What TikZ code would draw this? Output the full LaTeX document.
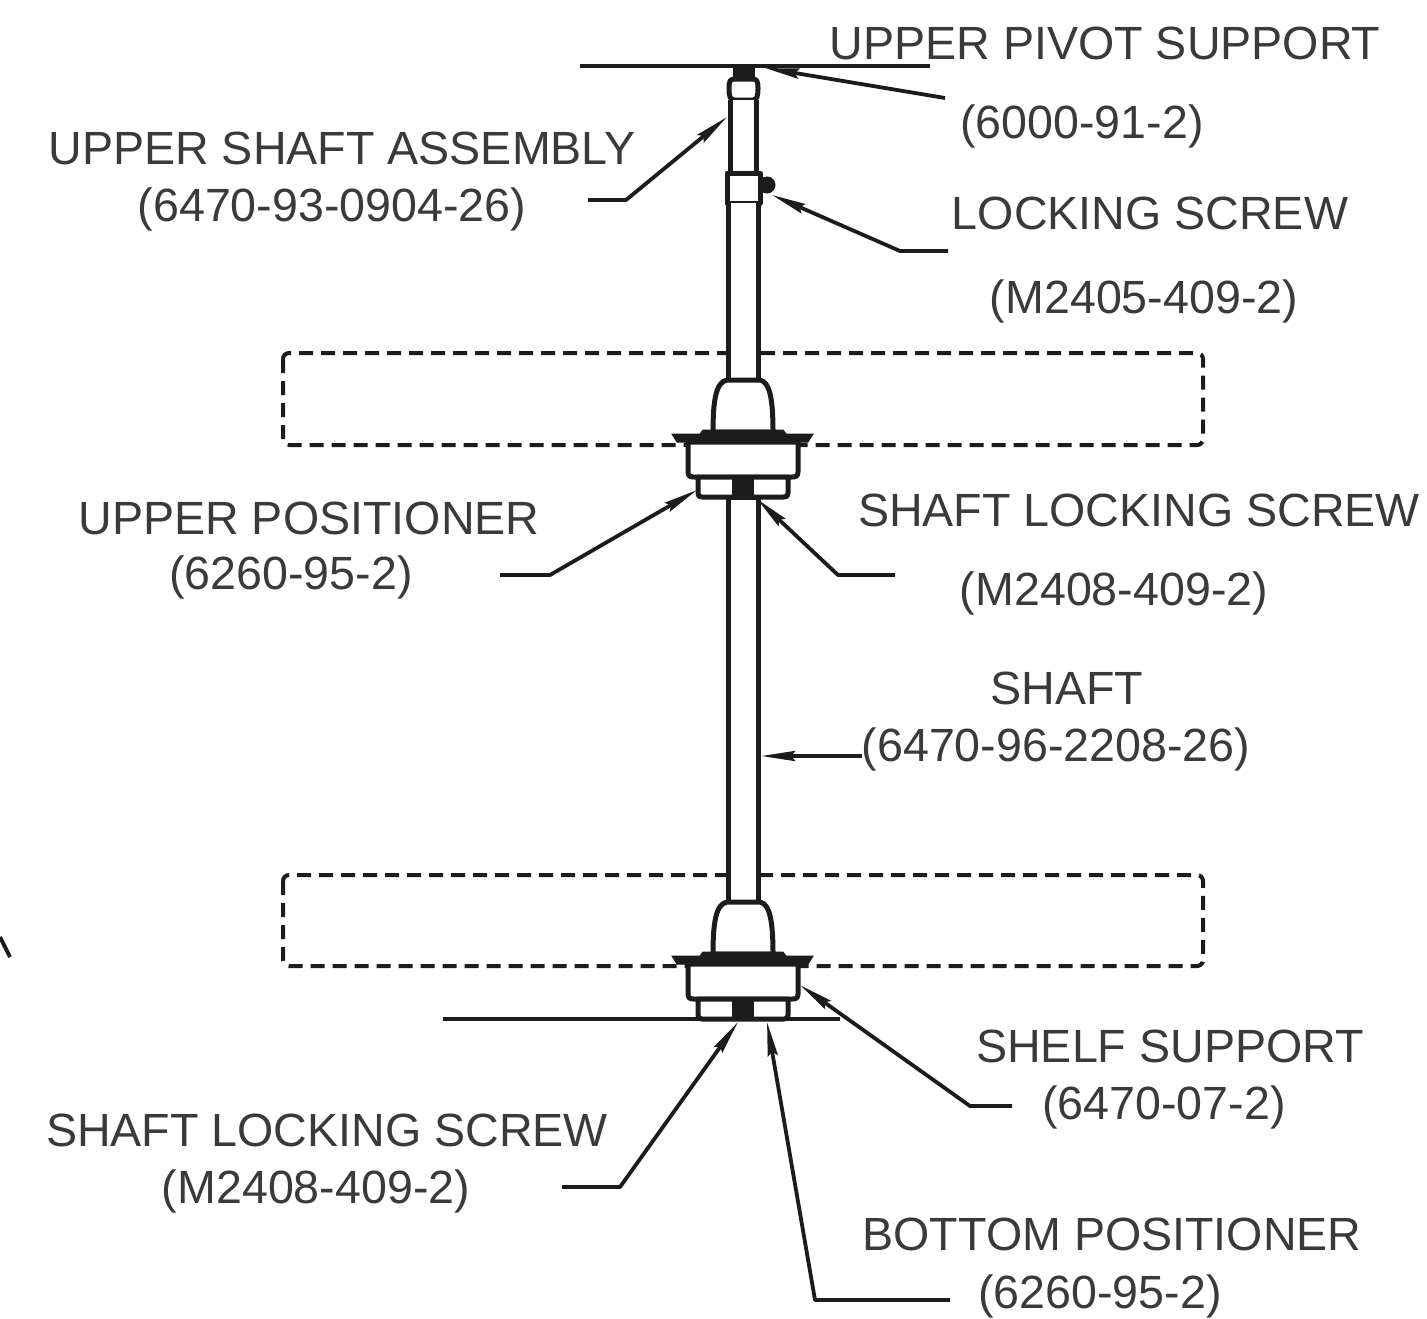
\documentclass[tikz,border=0pt]{standalone}
\usepackage{fontspec}
\setmainfont{Liberation Sans}
\usetikzlibrary{arrows.meta}
\definecolor{ink}{HTML}{1C1C1C}
\definecolor{txt}{HTML}{3A3A3A}
\tikzset{
  x=0.5pt,y=-0.5pt,
  part/.style={draw=ink,line width=2.5pt,fill=white,line join=round},
  outline/.style={draw=ink,line width=2pt},
  solidblack/.style={fill=ink,draw=ink,line width=0.5pt},
  hole/.style={draw=ink,line width=2pt,rounded corners=3pt,dash pattern=on 7pt off 4pt},
  leader/.style={draw=ink,line width=1.9pt,line join=round,-{Stealth[length=17pt,width=5pt,inset=2pt]}},
  lbl/.style={text=txt,font=\fontsize{23.3}{25}\selectfont,inner sep=0pt,anchor=center},
}
\newcommand{\hubshape}[1]{%
  \begin{scope}[yshift=#1]
    \draw[part] (713,432) .. controls (713,400) and (716,382) .. (727,380) -- (760,380) .. controls (770,382) and (773,400) .. (773,432) -- cycle;
    \draw[part] (688,442) -- (688,472) .. controls (688,476) and (690,477) .. (694,477) -- (792,477) .. controls (796,477) and (798,476) .. (798,472) -- (798,442) -- cycle;
    \draw[part] (698,477) -- (698,493) .. controls (698,496) and (699,497) .. (702,497) -- (784,497) .. controls (787,497) and (788,496) .. (788,493) -- (788,477) -- cycle;
    \fill[solidblack] (672,434) -- (700,434) -- (703,430) -- (783,430) -- (786,434) -- (813,434) -- (808,442) -- (677,442) -- cycle;
    \fill[solidblack] (732,477) rectangle (753,497);
  \end{scope}}
\begin{document}
\begin{tikzpicture}
\useasboundingbox (0,0) rectangle (1427,1318);
\fill[white] (0,0) rectangle (1427,1318);

% shelves (dashed)
\draw[hole] (283,353) rectangle (1203,445);
\draw[hole] (283,875) rectangle (1203,966);

% support lines
\coordinate (topL) at (580,66);
\coordinate (topR) at (930,66);
\coordinate (botL) at (443,1019);
\coordinate (botR) at (840,1019);
\draw[outline] (topL) -- (topR);
\draw[outline] (botL) -- (botR);

% upper shaft assembly
\fill[solidblack] (733,68) rectangle (754,79);
\draw[part] (734,79) .. controls (730,79) and (729,82) .. (729,88) .. controls (729,96) and (730,100) .. (734,100) -- (753,100) .. controls (757,100) and (758,96) .. (758,88) .. controls (758,82) and (757,79) .. (753,79) -- cycle;
\draw[part] (730,100) -- (730,173) -- (756,173) -- (756,100);
\draw[part] (727,173) rectangle (760,203);
\draw[part] (728,203) -- (728,380) -- (758,380) -- (758,203);
\fill[solidblack] (767,185) circle (4pt);

% hubs
\draw[part] (728,497) -- (728,902) -- (758,902) -- (758,497) -- cycle;
\hubshape{0pt}
\hubshape{-261pt}

% labels
\node[lbl] (pivotA) at (1105,43) {UPPER PIVOT SUPPORT};
\node[lbl] (pivotB) at (1082,126) {(6000-91-2)};
\node[lbl] (shaftUA) at (342,148) {UPPER SHAFT ASSEMBLY};
\node[lbl] (shaftUB) at (332,209) {(6470-93-0904-26)};
\node[lbl] (lockA) at (1150,213) {LOCKING SCREW};
\node[lbl] (lockB) at (1144,301) {(M2405-409-2)};
\node[lbl] (upA) at (309,518) {UPPER POSITIONER};
\node[lbl] (upB) at (291,577) {(6260-95-2)};
\node[lbl] (sl1A) at (1139,510) {SHAFT LOCKING SCREW};
\node[lbl] (sl1B) at (1114,593) {(M2408-409-2)};
\node[lbl] (shA) at (1067,688) {SHAFT};
\node[lbl] (shB) at (1056,749) {(6470-96-2208-26)};
\node[lbl] (shelfA) at (1170,1046) {SHELF SUPPORT};
\node[lbl] (shelfB) at (1164,1107) {(6470-07-2)};
\node[lbl] (sl2A) at (327,1130) {SHAFT LOCKING SCREW};
\node[lbl] (sl2B) at (316,1191) {(M2408-409-2)};
\node[lbl] (botA) at (1112,1234) {BOTTOM POSITIONER};
\node[lbl] (botB) at (1100,1296) {(6260-95-2)};

% leader ends
\coordinate (a1) at (945,98);      \coordinate (a2) at (765,68);
\coordinate (b0) at (588,200);     \coordinate (b1) at (626,200);  \coordinate (b2) at (727,117);
\coordinate (c0) at (948,251);     \coordinate (c1) at (900,251);  \coordinate (c2) at (772,195);
\coordinate (d0) at (500,575);     \coordinate (d1) at (550,575);  \coordinate (d2) at (697,490);
\coordinate (e0) at (895,575);     \coordinate (e1) at (838,575);  \coordinate (e2) at (757,499);
\coordinate (f0) at (862,756);     \coordinate (f2) at (761,756);
\coordinate (g0) at (1012,1106);   \coordinate (g1) at (970,1106); \coordinate (g2) at (800,985);
\coordinate (h0) at (562,1187);    \coordinate (h1) at (620,1187); \coordinate (h2) at (738,1022);
\coordinate (i0) at (950,1300);    \coordinate (i1) at (815,1300); \coordinate (i2) at (767,1022);

\draw[leader] (a1) -- (a2);
\draw[leader] (b0) -- (b1) -- (b2);
\draw[leader] (c0) -- (c1) -- (c2);
\draw[leader] (d0) -- (d1) -- (d2);
\draw[leader] (e0) -- (e1) -- (e2);
\draw[leader] (f0) -- (f2);
\draw[leader] (g0) -- (g1) -- (g2);
\draw[leader] (h0) -- (h1) -- (h2);
\draw[leader] (i0) -- (i1) -- (i2);

% stray mark at left edge
\coordinate (m0) at (0,937);
\coordinate (m1) at (10,957);
\draw[outline] (m0) -- (m1);
\end{tikzpicture}
\end{document}
